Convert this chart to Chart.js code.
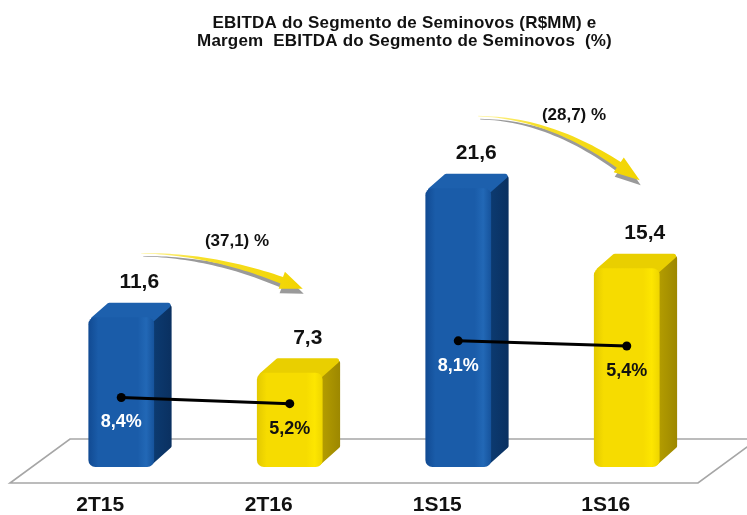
<!DOCTYPE html>
<html>
<head>
<meta charset="utf-8">
<script src="https://cdn.jsdelivr.net/npm/chart.js@4.4.0/dist/chart.umd.min.js"></script>
<style>
  html, body { margin: 0; padding: 0; background: #fff; }
</style>
</head>
<body>
<canvas id="ebitdaChart" width="747" height="515"></canvas>
<script>
    // --- DATA ---
    const categories = ['2T15', '2T16', '1S15', '1S16'];
    const ebitda = [11.6, 7.3, 21.6, 15.4];          // R$MM
    const margin = [8.4, 5.2, 8.1, 5.4];             // %
    const changePairs = [[0, 1], [2, 3]];
    const changeLabels = ['(37,1) %', '(28,7) %'];
    const titleLines = [
        'EBITDA do Segmento de Seminovos (R$MM) e',
        'Margem  EBITDA do Segmento de Seminovos  (%)'
    ];

    // margin line is split in two pairs (quarter / semester)
    const marginQuarter = margin.map((v, i) => i < 2 ? v : null);
    const marginSemester = margin.map((v, i) => i >= 2 ? v : null);

    // --- STYLE ---
    const FONT = '"Liberation Sans", Arial, sans-serif';
    const barStyle = ['blue', 'yellow', 'blue', 'yellow'];
    const palette = {
        blue:   { a: '#114a92', b: '#1a5ca9', c: '#2268b6', d: '#16539c', side: '#0c3a70', sideDark: '#0a3060', top: '#1d60ad' },
        yellow: { a: '#e3c900', b: '#f6dc00', c: '#fde600', d: '#eed500', side: '#b39c00', sideDark: '#9c8700', top: '#e9cf00' }
    };
    const BAR_PCT = 0.39;
    const DX = 18, DY = 15;

    const fmt = v => v.toFixed(1).replace('.', ',');

    function frontFill(context) {
        const chart = context.chart;
        const p = palette[barStyle[context.dataIndex]];
        const xs = chart.scales.x;
        if (!chart.chartArea || !xs) return p.b;
        const cx = xs.getPixelForValue(context.dataIndex);
        const half = xs.width / categories.length * BAR_PCT / 2;
        if (!isFinite(cx)) return p.b;
        const g = chart.ctx.createLinearGradient(cx - half, 0, cx + half, 0);
        g.addColorStop(0, p.a);
        g.addColorStop(0.15, p.b);
        g.addColorStop(0.75, p.b);
        g.addColorStop(0.88, p.c);
        g.addColorStop(1, p.d);
        return g;
    }

    function poly(ctx, pts, fill) {
        ctx.beginPath();
        ctx.moveTo(pts[0][0], pts[0][1]);
        for (let k = 1; k < pts.length; k++) ctx.lineTo(pts[k][0], pts[k][1]);
        ctx.closePath();
        ctx.fillStyle = fill;
        ctx.strokeStyle = fill;
        ctx.lineJoin = 'round';
        ctx.lineWidth = 5;
        ctx.fill();
        ctx.stroke();
    }

    // tapered curved arrow
    function swoosh(ctx, p0, p1, fill) {
        const c = { x: p0.x + 0.5 * (p1.x - p0.x), y: p0.y + 0.02 * (p1.y - p0.y) };
        const tH = 0.87;
        const at = t => ({
            x: (1 - t) * (1 - t) * p0.x + 2 * (1 - t) * t * c.x + t * t * p1.x,
            y: (1 - t) * (1 - t) * p0.y + 2 * (1 - t) * t * c.y + t * t * p1.y
        });
        const nrm = t => {
            const dx = 2 * (1 - t) * (c.x - p0.x) + 2 * t * (p1.x - c.x);
            const dy = 2 * (1 - t) * (c.y - p0.y) + 2 * t * (p1.y - c.y);
            const l = Math.hypot(dx, dy);
            return { x: -dy / l, y: dx / l };
        };
        const up = [], lo = [];
        for (let k = 0; k <= 30; k++) {
            const t = tH * k / 30;
            const p = at(t), n = nrm(t);
            const w = 0.3 + 3.2 * Math.pow(t / tH, 1.3);
            up.push([p.x + n.x * w, p.y + n.y * w]);
            lo.push([p.x - n.x * w, p.y - n.y * w]);
        }
        const h = at(tH), hn = nrm(tH);
        ctx.beginPath();
        ctx.moveTo(up[0][0], up[0][1]);
        up.forEach(q => ctx.lineTo(q[0], q[1]));
        ctx.lineTo(h.x + hn.x * 9, h.y + hn.y * 9);
        ctx.lineTo(p1.x, p1.y);
        ctx.lineTo(h.x - hn.x * 9, h.y - hn.y * 9);
        for (let k = lo.length - 1; k >= 0; k--) ctx.lineTo(lo[k][0], lo[k][1]);
        ctx.closePath();
        ctx.fillStyle = fill;
        ctx.fill();
    }

    // --- 3D / ANNOTATION PLUGIN ---
    const bar3d = {
        id: 'bar3d',
        beforeDatasetsDraw(chart) {
            const ctx = chart.ctx;
            const area = chart.chartArea;
            const base = chart.scales.y.getPixelForValue(0);
            // floor
            ctx.save();
            ctx.beginPath();
            ctx.moveTo(area.left - 27, base + 16);
            ctx.lineTo(area.right - 13, base + 16);
            ctx.lineTo(area.right + 47, base - 28);
            ctx.lineTo(area.left + 33, base - 28);
            ctx.closePath();
            ctx.fillStyle = '#ffffff';
            ctx.fill();
            ctx.strokeStyle = '#a6a6a6';
            ctx.lineWidth = 1.6;
            ctx.stroke();

            // side + top faces
            chart.getDatasetMeta(0).data.forEach((el, i) => {
                const p = palette[barStyle[i]];
                const { x, y, base: b, width } = el.getProps(['x', 'y', 'base', 'width'], true);
                const l = x - width / 2, r = x + width / 2;
                const sg = ctx.createLinearGradient(r, 0, r + DX, 0);
                sg.addColorStop(0, p.side);
                sg.addColorStop(1, p.sideDark);
                poly(ctx, [[r - 4, y + 6], [r + DX - 3, y - DY + 5], [r + DX - 3, b - DY - 6], [r - 4, b - 4]], sg);
                poly(ctx, [[l + 5, y + 2], [l + DX + 3, y - DY + 3], [r + DX - 4, y - DY + 3], [r - 3, y + 3]], p.top);
            });
            ctx.restore();
        },
        afterDatasetsDraw(chart) {
            const ctx = chart.ctx;
            const bars = chart.getDatasetMeta(0).data;
            ctx.save();
            ctx.textAlign = 'center';
            ctx.textBaseline = 'middle';

            // EBITDA values above bars
            ctx.font = 'bold 21px ' + FONT;
            ctx.fillStyle = '#111';
            bars.forEach((el, i) => ctx.fillText(fmt(ebitda[i]), el.x + 18, el.y - 35));

            // margin labels under points
            ctx.font = 'bold 18px ' + FONT;
            [1, 2].forEach(ds => {
                chart.getDatasetMeta(ds).data.forEach((pt, i) => {
                    const v = chart.data.datasets[ds].data[i];
                    if (v == null) return;
                    ctx.fillStyle = barStyle[i] === 'blue' ? '#ffffff' : '#111111';
                    ctx.fillText(fmt(v) + '%', pt.x, pt.y + 25);
                });
            });

            // change arrows
            changePairs.forEach((pair, k) => {
                const a = bars[pair[0]], b = bars[pair[1]];
                const p0 = { x: a.x + 20, y: a.y - 64 - k * 8 };
                const p1 = { x: b.x + 13, y: b.y - 84 - k * 4 };
                swoosh(ctx, { x: p0.x + 2, y: p0.y + 3 }, { x: p1.x + 1, y: p1.y + 5 }, '#9a9a9a');
                const g = ctx.createLinearGradient(p0.x, 0, p1.x, 0);
                g.addColorStop(0, '#fff6a8');
                g.addColorStop(0.35, '#f7e02a');
                g.addColorStop(1, '#f2d400');
                swoosh(ctx, p0, p1, g);
                ctx.font = 'bold 17px ' + FONT;
                ctx.fillStyle = '#111';
                ctx.fillText(changeLabels[k], (p0.x + p1.x) / 2 + 15, p0.y - 12 + k * 11);
            });
            ctx.restore();
        },
        afterDraw(chart) {
            const ctx = chart.ctx;
            ctx.save();
            ctx.font = 'bold 17px ' + FONT;
            ctx.letterSpacing = '0.2px';
            ctx.fillStyle = '#111';
            ctx.textAlign = 'center';
            ctx.textBaseline = 'alphabetic';
            titleLines.forEach((t, i) => ctx.fillText(t, chart.width / 2 + 31, 28 + i * 18));
            ctx.restore();
        }
    };

    // --- CHART ---
    const ctxChart = document.getElementById('ebitdaChart').getContext('2d');
    new Chart(ctxChart, {
        type: 'bar',
        data: {
            labels: categories,
            datasets: [
                {
                    label: 'EBITDA (R$MM)',
                    data: ebitda,
                    backgroundColor: frontFill,
                    borderRadius: 7,
                    borderSkipped: false,
                    barPercentage: BAR_PCT,
                    categoryPercentage: 1,
                    yAxisID: 'y',
                    order: 2
                },
                {
                    type: 'line',
                    label: 'Margem EBITDA trimestre',
                    data: marginQuarter,
                    borderColor: '#000',
                    borderWidth: 3,
                    pointRadius: 4.5,
                    pointBackgroundColor: '#000',
                    pointBorderWidth: 0,
                    yAxisID: 'yA',
                    order: 1
                },
                {
                    type: 'line',
                    label: 'Margem EBITDA semestre',
                    data: marginSemester,
                    borderColor: '#000',
                    borderWidth: 3,
                    pointRadius: 4.5,
                    pointBackgroundColor: '#000',
                    pointBorderWidth: 0,
                    yAxisID: 'yB',
                    order: 1
                }
            ]
        },
        options: {
            responsive: false,
            animation: false,
            layout: { padding: { top: 112, left: 37, right: 36, bottom: -29 } },
            scales: {
                x: {
                    grid: { display: false, drawTicks: false },
                    border: { display: false },
                    ticks: {
                        color: '#111',
                        font: { family: FONT, size: 21, weight: 'bold', lineHeight: 1 },
                        padding: 28,
                        labelOffset: -21
                    }
                },
                y:  { display: false, min: 0, max: 27.5 },
                yA: { display: false, min: -28, max: 158 },
                yB: { display: false, min: -58, max: 128 }
            },
            plugins: {
                legend: { display: false },
                title: { display: false },
                tooltip: { enabled: false }
            }
        },
        plugins: [bar3d]
    });
</script>
</body>
</html>
